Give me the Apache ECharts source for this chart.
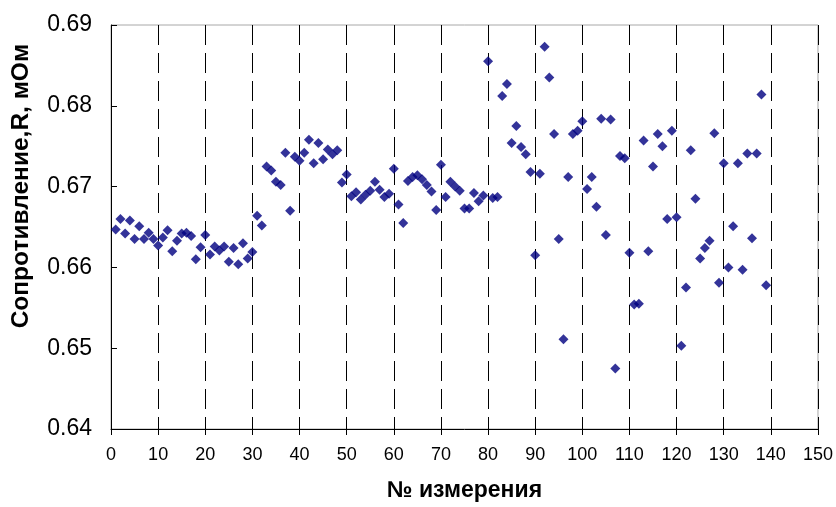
<!DOCTYPE html>
<html>
<head>
<meta charset="utf-8">
<script src="https://cdn.jsdelivr.net/npm/echarts@6/dist/echarts.min.js"></script>
<style>html,body{margin:0;padding:0;background:#fff;}#c{width:836px;height:507px;}</style>
</head>
<body>
<div id="c"></div>
<script>
const measurementNo = [1,2,3,4,5,6,7,8,9,10,11,12,13,14,15,16,17,18,19,20,
21,22,23,24,25,26,27,28,29,30,31,32,33,34,35,36,37,38,39,40,
41,42,43,44,45,46,47,48,49,50,51,52,53,54,55,56,57,58,59,60,
61,62,63,64,65,66,67,68,69,70,71,72,73,74,75,76,77,78,79,80,
81,82,83,84,85,86,87,88,89,90,91,92,93,94,95,96,97,98,99,100,
101,102,103,104,105,106,107,108,109,110,111,112,113,114,115,116,117,118,119,120,
121,122,123,124,125,126,127,128,129,130,131,132,133,134,135,136,137,138,139];
const resistance = [
0.6647,0.6660,0.6642,0.6658,0.6635,0.6651,0.6635,0.6643,0.6635,0.6627,
0.6637,0.6646,0.6620,0.6633,0.6642,0.6643,0.6639,0.6610,0.6625,0.6640,
0.6616,0.6626,0.6621,0.6626,0.6607,0.6624,0.6604,0.6630,0.6611,0.6619,
0.6664,0.6652,0.6725,0.6720,0.6706,0.6702,0.6742,0.6670,0.6737,0.6732,
0.6742,0.6758,0.6729,0.6754,0.6734,0.6746,0.6740,0.6745,0.6705,0.6715,
0.6688,0.6693,0.6684,0.6690,0.6695,0.6706,0.6696,0.6687,0.6691,0.6722,
0.6678,0.6655,0.6707,0.6712,0.6714,0.6709,0.6702,0.6694,0.6671,0.6727,
0.6687,0.6706,0.6700,0.6695,0.6673,0.6673,0.6692,0.6682,0.6689,0.6855,
0.6686,0.6687,0.6812,0.6827,0.6754,0.6775,0.6749,0.6740,0.6718,0.6615,
0.6716,0.6873,0.6835,0.6765,0.6635,0.6511,0.6712,0.6765,0.6769,0.6781,
0.6697,0.6712,0.6675,0.6784,0.6640,0.6783,0.6475,0.6738,0.6735,0.6618,
0.6554,0.6555,0.6757,0.6620,0.6725,0.6765,0.6750,0.6660,0.6769,0.6662,
0.6503,0.6575,0.6745,0.6685,0.6611,0.6624,0.6633,0.6766,0.6581,0.6729,
0.6600,0.6651,0.6729,0.6597,0.6741,0.6636,0.6741,0.6814,0.6578];
const xTitle = '№ измерения';
const yTitle = 'Сопротивление,R, мОм';

const points = measurementNo.map((n, i) => [n, resistance[i]]);

const chart = echarts.init(document.getElementById('c'), null, {renderer: 'canvas'});
chart.setOption({
  animation: false,
  backgroundColor: '#ffffff',
  grid: {left: 111, top: 25, width: 709, height: 408, show: true, borderColor: '#a8a8a8', borderWidth: 1, backgroundColor: 'transparent'},
  xAxis: {
    type: 'value', min: 0, max: 150, interval: 10,
    name: xTitle, nameLocation: 'middle', nameGap: 50,
    nameTextStyle: {fontFamily: 'Liberation Sans, Arial, sans-serif', fontWeight: 'bold', fontSize: 23, color: '#000'},
    axisLine: {show: true, onZero: false, lineStyle: {color: '#000', width: 1}},
    axisTick: {show: true, inside: false, length: 6, lineStyle: {color: '#000'}},
    axisLabel: {margin: 17, fontFamily: 'Liberation Sans Narrow, Arial Narrow, Liberation Sans, sans-serif', fontSize: 18, color: '#000'},
    splitLine: {show: true, lineStyle: {color: '#000', width: 1, type: [20, 8]}}
  },
  yAxis: {
    type: 'value', min: 0.64, max: 0.69, interval: 0.01,
    axisLine: {show: true, onZero: false, lineStyle: {color: '#000', width: 1}},
    axisTick: {show: true, inside: true, length: 6, lineStyle: {color: '#000'}},
    axisLabel: {margin: 19, fontFamily: 'Liberation Sans, Arial, sans-serif', fontSize: 23, color: '#000',
      formatter: v => v.toFixed(2)},
    splitLine: {show: false}
  },
  graphic: [{
    type: 'text', left: 9, top: 44, rotation: Math.PI / 2,
    style: {text: yTitle, font: 'bold 24.5px "Liberation Sans", Arial, sans-serif', fill: '#000'}
  }],
  series: [{
    type: 'scatter', data: points, symbol: 'diamond', symbolSize: 10,
    itemStyle: {color: '#000080'}
  }]
});
</script>
</body>
</html>
